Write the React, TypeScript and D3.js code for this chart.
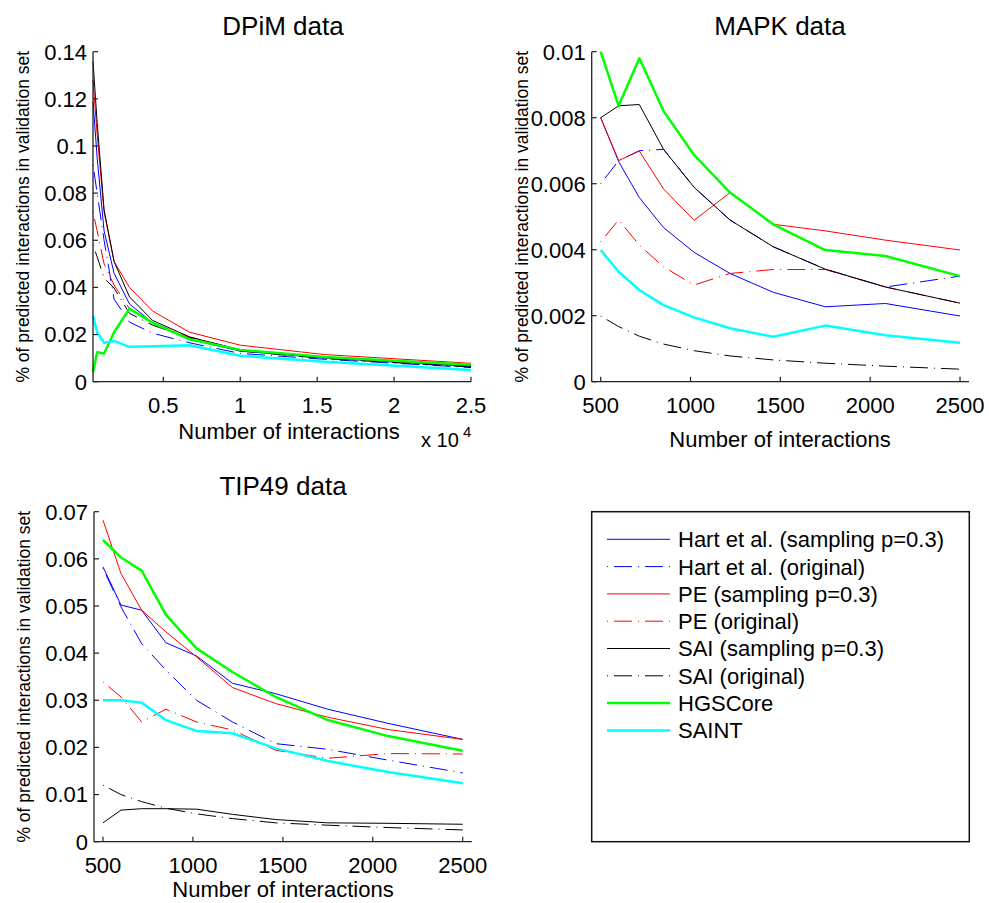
import React from "react";
import * as d3 from "d3";

// ---- data ----
const seriesNames = [
  "Hart et al. (sampling p=0.3)",
  "Hart et al. (original)",
  "PE (sampling p=0.3)",
  "PE (original)",
  "SAI (sampling p=0.3)",
  "SAI (original)",
  "HGSCore",
  "SAINT",
];

const xDpim = [430, 700, 1150, 1800, 2800, 4300, 6700, 10000, 15500, 25000];
const xSmall = [500, 600, 715, 850, 1020, 1220, 1460, 1750, 2085, 2500];

const dpimHartSamp = [0.119, 0.095, 0.064, 0.046, 0.033, 0.025, 0.018, 0.013, 0.01, 0.0065];
const dpimHartOrig = [0.092, 0.08, 0.06, 0.035, 0.0253, 0.0206, 0.0165, 0.012, 0.0095, 0.006];
const dpimPeSamp = [0.128, 0.105, 0.072, 0.051, 0.04, 0.03, 0.021, 0.0155, 0.0115, 0.0078];
const dpimPeOrig = [0.072, 0.064, 0.05, 0.041, 0.031, 0.025, 0.019, 0.0135, 0.01, 0.0068];
const dpimSaiSamp = [0.136, 0.11, 0.073, 0.051, 0.036, 0.026, 0.019, 0.0135, 0.0105, 0.0068];
const dpimSaiOrig = [0.058, 0.053, 0.044, 0.0397, 0.029, 0.024, 0.0185, 0.013, 0.0098, 0.0062];
const dpimHgscore = [0.004, 0.0125, 0.012, 0.021, 0.031, 0.025, 0.018, 0.0135, 0.0105, 0.0072];
const dpimSaint = [0.028, 0.021, 0.0165, 0.0173, 0.0148, 0.015, 0.0155, 0.011, 0.0085, 0.005];

const mapkHartSamp = [0.008, 0.00667, 0.00558, 0.00467, 0.00392, 0.00328, 0.00271, 0.00227, 0.00237, 0.00199];
const mapkHartOrig = [0.006, 0.0067, 0.007, 0.00704, 0.00589, 0.0049, 0.00409, 0.00341, 0.00287, 0.0032];
const mapkPeSamp = [0.008, 0.0067, 0.00699, 0.00584, 0.00489, 0.00573, 0.00477, 0.00457, 0.00429, 0.00399];
const mapkPeOrig = [0.00424, 0.0049, 0.00414, 0.00348, 0.00293, 0.00328, 0.0034, 0.0034, 0.00287, 0.00238];
const mapkSaiSamp = [0.008, 0.00836, 0.0084, 0.00704, 0.00589, 0.0049, 0.00409, 0.00341, 0.00287, 0.00238];
const mapkSaiOrig = [0.00199, 0.00167, 0.00138, 0.00114, 0.00094, 0.00078, 0.00066, 0.00056, 0.00047, 0.00038];
const mapkHgscore = [0.01, 0.00836, 0.0098, 0.0082, 0.00687, 0.00573, 0.00477, 0.00399, 0.00381, 0.0032];
const mapkSaint = [0.00399, 0.00333, 0.00278, 0.00232, 0.00195, 0.00162, 0.00136, 0.0017, 0.00141, 0.00118];

const tipHartSamp = [0.0583, 0.0502, 0.0491, 0.0422, 0.0394, 0.0336, 0.0314, 0.0281, 0.0251, 0.0217];
const tipHartOrig = [0.058, 0.0498, 0.042, 0.0364, 0.03, 0.0254, 0.0208, 0.0196, 0.0173, 0.0146];
const tipPeSamp = [0.0682, 0.0569, 0.0491, 0.0445, 0.0392, 0.0327, 0.0293, 0.0264, 0.0238, 0.0217];
const tipPeOrig = [0.0339, 0.0307, 0.0254, 0.0281, 0.0254, 0.0237, 0.0194, 0.0177, 0.0187, 0.0186];
const tipSaiSamp = [0.004, 0.0067, 0.007, 0.007, 0.0069, 0.0058, 0.0047, 0.004, 0.0039, 0.0037];
const tipSaiOrig = [0.012, 0.01, 0.0085, 0.0071, 0.0059, 0.0049, 0.004, 0.0035, 0.003, 0.0025];
const tipHgscore = [0.064, 0.0603, 0.0575, 0.0481, 0.041, 0.036, 0.0307, 0.0258, 0.0224, 0.0193];
const tipSaint = [0.03, 0.03, 0.0295, 0.0258, 0.0235, 0.023, 0.0198, 0.0171, 0.0148, 0.0124];

const dpimYTicks = [0, 0.02, 0.04, 0.06, 0.08, 0.1, 0.12, 0.14];
const dpimXTicks = [5000, 10000, 15000, 20000, 25000];
const dpimXTickLabels = ["0.5", "1", "1.5", "2", "2.5"];
const mapkYTicks = [0, 0.002, 0.004, 0.006, 0.008, 0.01];
const tipYTicks = [0, 0.01, 0.02, 0.03, 0.04, 0.05, 0.06, 0.07];
const smallXTicks = [500, 1000, 1500, 2000, 2500];

// ---- styles ----
const FONT = "'Liberation Sans', Arial, Helvetica, sans-serif";
const DASHDOT = "1,6,18,6";
const styles = [
  { color: "#0000ff", width: 1, dash: null },
  { color: "#0000ff", width: 1, dash: DASHDOT },
  { color: "#ff0000", width: 1, dash: null },
  { color: "#ff0000", width: 1, dash: DASHDOT },
  { color: "#000000", width: 1, dash: null },
  { color: "#000000", width: 1, dash: DASHDOT },
  { color: "#00ff00", width: 2.5, dash: null },
  { color: "#00ffff", width: 2.5, dash: null },
];

type PanelProps = {
  left: number;
  top: number;
  width: number;
  height: number;
  xDomain: [number, number];
  yDomain: [number, number];
  xs: number[];
  series: number[][];
  xTicks: number[];
  xTickLabels: string[];
  yTicks: number[];
  title: string;
  titleX: number;
  xLabelX: number;
  xLabelDy: number;
  exponent?: boolean;
};

function Panel(p: PanelProps) {
  const x = d3.scaleLinear().domain(p.xDomain).range([p.left, p.left + p.width]);
  const y = d3.scaleLinear().domain(p.yDomain).range([p.top + p.height, p.top]);
  const line = d3
    .line<[number, number]>()
    .x((d) => x(d[0]))
    .y((d) => y(d[1]));
  const bottom = p.top + p.height;
  const right = p.left + p.width;
  const fmt = (v: number) => (v === 0 ? "0" : String(+v.toFixed(4)));
  return (
    <g>
      <text x={p.titleX} y={p.top - 17} textAnchor="middle" fontSize={26} fontFamily={FONT}>
        {p.title}
      </text>
      {p.series.map((vals, i) => (
        <path
          key={i}
          d={line(p.xs.map((xv, j) => [xv, vals[j]] as [number, number])) || ""}
          fill="none"
          stroke={styles[i].color}
          strokeWidth={styles[i].width}
          strokeDasharray={styles[i].dash || undefined}
          strokeLinejoin="round"
        />
      ))}
      <line x1={p.left} x2={p.left} y1={p.top} y2={bottom} stroke="#222" strokeWidth={1.3} />
      <line x1={p.left} x2={right} y1={bottom} y2={bottom} stroke="#222" strokeWidth={1.3} />
      {p.yTicks.map((t) => (
        <g key={"y" + t}>
          <line x1={p.left} x2={p.left + 5} y1={y(t)} y2={y(t)} stroke="#222" strokeWidth={1.2} />
          <text x={p.left - 6} y={y(t)} dy="0.36em" textAnchor="end" fontSize={22} fontFamily={FONT}>
            {fmt(t)}
          </text>
        </g>
      ))}
      {p.xTicks.map((t, i) => (
        <g key={"x" + t}>
          <line x1={x(t)} x2={x(t)} y1={bottom} y2={bottom - 5} stroke="#222" strokeWidth={1.2} />
          <text x={x(t)} y={bottom + 31} textAnchor="middle" fontSize={22} fontFamily={FONT}>
            {p.xTickLabels[i]}
          </text>
        </g>
      ))}
      <text x={p.xLabelX} y={bottom + p.xLabelDy} textAnchor="middle" fontSize={22} fontFamily={FONT}>
        Number of interactions
      </text>
      <text
        transform={`translate(${p.left - 64},${p.top + p.height / 2}) rotate(-90)`}
        textAnchor="middle"
        fontSize={17.5}
        fontFamily={FONT}
      >
        % of predicted interactions in validation set
      </text>
      {p.exponent && (
        <g fontFamily={FONT}>
          <text x={421} y={bottom + 65} fontSize={20}>
            x 10
          </text>
          <text x={463} y={bottom + 55} fontSize={15}>
            4
          </text>
        </g>
      )}
    </g>
  );
}

function Legend() {
  const lx = 591.7;
  const ly = 511.7;
  const lw = 377.6;
  const lh = 330;
  return (
    <g>
      <rect x={lx} y={ly} width={lw} height={lh} fill="#fff" stroke="#111" strokeWidth={1.5} />
      {seriesNames.map((name, i) => {
        const ry = 539.3 + i * 27.3;
        const s = styles[i];
        return (
          <g key={name}>
            <line
              x1={607}
              x2={670}
              y1={ry}
              y2={ry}
              stroke={s.color}
              strokeWidth={s.width}
              strokeDasharray={s.dash || undefined}
            />
            <text x={678} y={ry} dy="0.36em" fontSize={22} fontFamily={FONT}>
              {name}
            </text>
          </g>
        );
      })}
    </g>
  );
}

export default function App() {
  return (
    <svg
      width={989}
      height={903}
      style={{ position: "absolute", left: 0, top: 0, background: "#fff" }}
    >
      <rect x={0} y={0} width={989} height={903} fill="#fff" />
      <Panel
        left={93}
        top={51.7}
        width={378}
        height={330}
        xDomain={[430, 25000]}
        yDomain={[0, 0.14]}
        xs={xDpim}
        series={[dpimHartSamp, dpimHartOrig, dpimPeSamp, dpimPeOrig, dpimSaiSamp, dpimSaiOrig, dpimHgscore, dpimSaint]}
        xTicks={dpimXTicks}
        xTickLabels={dpimXTickLabels}
        yTicks={dpimYTicks}
        title="DPiM data"
        titleX={283}
        xLabelX={289}
        xLabelDy={57}
        exponent
      />
      <Panel
        left={591.7}
        top={51.7}
        width={377.3}
        height={330}
        xDomain={[450, 2550]}
        yDomain={[0, 0.01]}
        xs={xSmall}
        series={[mapkHartSamp, mapkHartOrig, mapkPeSamp, mapkPeOrig, mapkSaiSamp, mapkSaiOrig, mapkHgscore, mapkSaint]}
        xTicks={smallXTicks}
        xTickLabels={smallXTicks.map(String)}
        yTicks={mapkYTicks}
        title="MAPK data"
        titleX={780}
        xLabelX={780}
        xLabelDy={65}
      />
      <Panel
        left={94}
        top={511.7}
        width={377.7}
        height={330}
        xDomain={[450, 2550]}
        yDomain={[0, 0.07]}
        xs={xSmall}
        series={[tipHartSamp, tipHartOrig, tipPeSamp, tipPeOrig, tipSaiSamp, tipSaiOrig, tipHgscore, tipSaint]}
        xTicks={smallXTicks}
        xTickLabels={smallXTicks.map(String)}
        yTicks={tipYTicks}
        title="TIP49 data"
        titleX={283}
        xLabelX={283}
        xLabelDy={55}
      />
      <Legend />
    </svg>
  );
}
